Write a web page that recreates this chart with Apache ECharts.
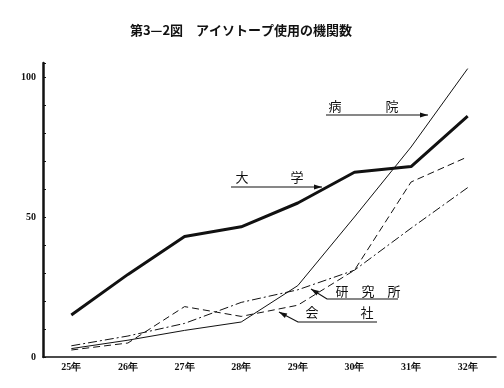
<!DOCTYPE html>
<html><head><meta charset="utf-8">
<script src="https://cdn.jsdelivr.net/npm/echarts@6/dist/echarts.min.js"></script>
<style>html,body{margin:0;padding:0;background:#fff}#c{width:504px;height:388px}</style>
</head><body><div id="c"></div>
<script>
const categories = ['25年','26年','27年','28年','29年','30年','31年','32年'];
const daigaku = [15, 29.5, 43, 46.5, 55, 66, 68, 86];
const byoin = [3, 6, 9.5, 12.5, 25.5, 50, 75, 103];
const kaisha = [2.5, 5, 18, 14.5, 18.5, 31, 62.5, 71.5];
const kenkyusho = [4, 7.5, 12, 19.5, 24, 31, 46, 60.5];
const yLabels = [0, 50, 100];

const chart = echarts.init(document.getElementById('c'), null, {renderer:'canvas'});
const CJK = '"Noto Sans CJK JP", sans-serif';
const SERIF = '"Liberation Serif", "DejaVu Serif", serif';

function arrow(pts, color) {
  const n = pts.length;
  const [x1,y1] = pts[n-2], [x2,y2] = pts[n-1];
  const a = Math.atan2(y2-y1, x2-x1), L = 8, W = 2.6;
  const bx = x2 - L*Math.cos(a), by = y2 - L*Math.sin(a);
  const px = -Math.sin(a)*W, py = Math.cos(a)*W;
  return [
    {type:'polyline', shape:{points:pts}, style:{stroke:color, lineWidth:1.2, fill:null}},
    {type:'polygon', shape:{points:[[x2,y2],[bx+px,by+py],[bx-px,by-py]]}, style:{fill:color}}
  ];
}
function ch(t, x, y) {
  return {type:'text', x:x, y:y, style:{text:t, font:'13px ' + CJK, fill:'#111', align:'center', verticalAlign:'middle'}};
}

const graphics = [].concat(
  [ch('病',335,106), ch('院',392,106)],
  arrow([[326,115],[428,115]], '#111'),
  [ch('大',242,177), ch('学',297,177)],
  arrow([[231,187],[322,187]], '#111'),
  [ch('研',342,291), ch('究',368,291), ch('所',394,291)],
  arrow([[398,299],[327,299],[311,289]], '#111'),
  [ch('会',312,312), ch('社',367,312)],
  arrow([[377,322],[298,322],[279,312]], '#111')
);

chart.setOption({
  animation:false,
  backgroundColor:'#fff',
  title:{text:'第3—2図　アイソトープ使用の機関数', left:236, textAlign:'center', top:19,
    textStyle:{fontFamily:CJK, fontSize:13, fontWeight:'bold', color:'#111'}},
  grid:{left:43, right:8, top:63, bottom:31, containLabel:false},
  xAxis:{type:'category', data:categories, boundaryGap:true,
    axisLine:{lineStyle:{color:'#111', width:1.5}},
    axisTick:{alignWithLabel:true, inside:true, length:3, lineStyle:{color:'#111'}},
    axisLabel:{fontFamily:SERIF, fontSize:10, color:'#111', margin:5, fontWeight:'bold'},
    splitLine:{show:false}},
  yAxis:{type:'value', min:0, max:105, interval:10,
    axisLine:{show:true, lineStyle:{color:'#111', width:2.5}},
    axisTick:{show:true, inside:true, length:3, lineStyle:{color:'#111'}},
    axisLabel:{fontFamily:SERIF, fontSize:10, color:'#111', margin:7, fontWeight:'bold',
      formatter:v => yLabels.includes(v) ? String(v) : ''},
    splitLine:{show:false}},
  series:[
    {name:'大学', type:'line', data:daigaku, symbol:'none', lineStyle:{color:'#111', width:3}},
    {name:'病院', type:'line', data:byoin, symbol:'none', lineStyle:{color:'#111', width:1}},
    {name:'会社', type:'line', data:kaisha, symbol:'none', lineStyle:{color:'#111', width:1, type:[7,4]}},
    {name:'研究所', type:'line', data:kenkyusho, symbol:'none', lineStyle:{color:'#111', width:1, type:[9,3,2,3]}}
  ],
  graphic: graphics
});
</script></body></html>
